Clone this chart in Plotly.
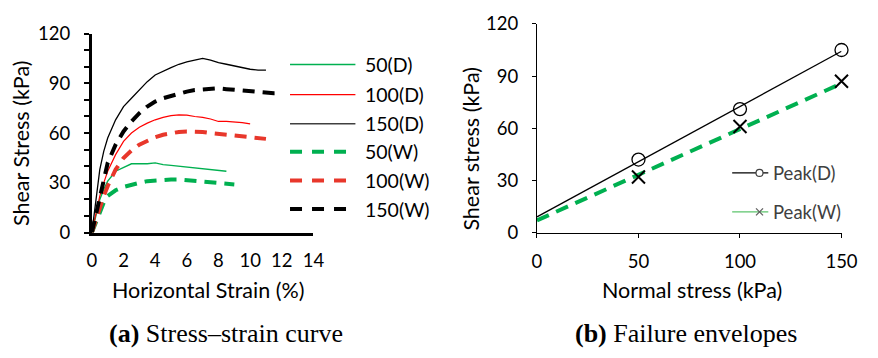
import plotly.graph_objects as go

# ---------------- data ----------------
# (a) stress-strain curves: horizontal strain (%) vs shear stress (kPa)
strain_50d = [0, 0.25, 0.5, 0.75, 1, 1.5, 2, 2.5, 3, 3.5, 4, 4.5, 5, 5.5, 6, 6.5, 7, 7.5, 8, 8.5]
stress_50d = [0, 11, 20, 26, 31, 37, 39.5, 41.5, 41.5, 41.5, 42, 41, 40.5, 40, 39.5, 39, 38.5, 38, 37.5, 37]

strain_100d = [0, 0.25, 0.5, 0.75, 1, 1.5, 2, 2.5, 3, 3.5, 4, 4.5, 5, 5.5, 6, 6.5, 7, 7.5, 8, 8.5, 9, 9.5, 10]
stress_100d = [0, 12, 22, 30, 37, 47, 55, 60, 63.5, 66, 68, 69.5, 70.5, 71, 70.8, 70, 69.5, 68.5, 67, 67, 66.8, 66.3, 65.5]

strain_150d = [0, 0.25, 0.5, 0.75, 1, 1.5, 2, 2.5, 3, 3.5, 4, 4.5, 5, 5.5, 6, 6.5, 7, 7.5, 8, 8.5, 9, 9.5, 10, 10.5, 11]
stress_150d = [0, 20, 38, 49, 57, 68, 76, 81, 86, 91, 95, 97.5, 99.5, 101.5, 103, 104, 105, 104, 102.5, 101.5, 100.5, 99.5, 98.5, 98, 98]

strain_50w = [0, 0.25, 0.5, 0.75, 1, 1.5, 2, 2.5, 3, 3.5, 4, 4.5, 5, 5.5, 6, 6.5, 7, 7.5, 8, 8.5, 9]
stress_50w = [0, 6, 13, 18, 22, 25.5, 27.5, 29, 30, 31, 31.5, 32, 32, 32, 31.5, 31, 30.5, 30, 30, 29.5, 29]

strain_100w = [0, 0.25, 0.5, 0.75, 1, 1.5, 2, 2.5, 3, 3.5, 4, 4.5, 5, 5.5, 6, 6.5, 7, 7.5, 8, 8.5, 9, 9.5, 10, 10.5, 11]
stress_100w = [0, 8, 15, 22, 28, 38, 45, 49.5, 53, 55.5, 57.5, 59, 60, 60.7, 61, 61, 60.7, 60, 59.5, 58.8, 58.3, 57.8, 57.5, 57, 56.5]

strain_150w = [0, 0.25, 0.5, 0.75, 1, 1.5, 2, 2.5, 3, 3.5, 4, 4.5, 5, 5.5, 6, 6.5, 7, 7.5, 8, 8.5, 9, 9.5, 10, 10.5, 11, 11.5, 12]
stress_150w = [0, 10, 20, 30, 42, 53, 61, 67, 72, 76, 79, 81, 82.5, 83.5, 85, 86, 86.5, 87, 87, 86.5, 86, 85.5, 85, 85, 84.5, 84, 84]

curve_names = ["50(D)", "100(D)", "150(D)", "50(W)", "100(W)", "150(W)"]

# (b) failure envelopes
normal_stress = [50, 100, 150]
peak_dry = [42, 71, 105]
peak_wet = [32, 61, 87]
# linear envelopes: [intercept (kPa), slope]
envelope_dry = [9.0, 0.635]
envelope_wet = [7.0, 0.525]
envelope_span = [0, 150]

strain_ticks = [0, 2, 4, 6, 8, 10, 12, 14]
stress_ticks = [0, 30, 60, 90, 120]
normal_ticks = [0, 50, 100, 150]

# ---------------- styling ----------------
W, H = 878, 358
FONT = "Lato, Calibri, Carlito, sans-serif"
GREEN = "#00b050"
RED_SOLID = "#ff0000"
RED_DASH = "#e8372b"
DASH = "12px,8px"


def fx(p):
    return p / W


def fy(p):
    return 1 - p / H


curves = [
    (strain_50d, stress_50d, dict(color=GREEN, width=1.4)),
    (strain_100d, stress_100d, dict(color=RED_SOLID, width=1.2)),
    (strain_150d, stress_150d, dict(color="#000000", width=1.3)),
    (strain_50w, stress_50w, dict(color=GREEN, width=4, dash=DASH)),
    (strain_100w, stress_100w, dict(color=RED_DASH, width=4, dash=DASH)),
    (strain_150w, stress_150w, dict(color="#000000", width=4, dash=DASH)),
]

fig = go.Figure()

for (sx, sy, ln), name in zip(curves, curve_names):
    fig.add_trace(go.Scatter(x=sx, y=sy, mode="lines", name=name, line=ln,
                             showlegend=False, xaxis="x", yaxis="y"))


# envelopes
def env(coef):
    return [coef[0] + coef[1] * s for s in envelope_span]


fig.add_trace(go.Scatter(x=envelope_span, y=env(envelope_dry), mode="lines",
                         line=dict(color="#000000", width=1.3), showlegend=False,
                         xaxis="x2", yaxis="y2"))
fig.add_trace(go.Scatter(x=envelope_span, y=env(envelope_wet), mode="lines",
                         line=dict(color=GREEN, width=4, dash="13px,8px"), showlegend=False,
                         xaxis="x2", yaxis="y2"))
fig.add_trace(go.Scatter(x=normal_stress, y=peak_dry, mode="markers", name="Peak(D)",
                         marker=dict(symbol="circle-open", size=13, color="#000000",
                                     line=dict(width=1.3)),
                         cliponaxis=False, showlegend=False, xaxis="x2", yaxis="y2"))
fig.add_trace(go.Scatter(x=normal_stress, y=peak_wet, mode="markers", name="Peak(W)",
                         marker=dict(symbol="x-thin-open", size=13, color="#000000",
                                     line=dict(width=2, color="#000000")),
                         cliponaxis=False, showlegend=False, xaxis="x2", yaxis="y2"))

tickfont = dict(family=FONT, size=18.5, color="#000000")

fig.update_layout(
    width=W, height=H,
    margin=dict(l=0, r=0, t=0, b=0),
    paper_bgcolor="white", plot_bgcolor="white",
    showlegend=False,
    xaxis=dict(domain=[fx(89), fx(316)], range=[0, 14], tickvals=strain_ticks,
               showgrid=False, zeroline=False, showline=True, linewidth=3,
               linecolor="#000000", ticks="", tickfont=tickfont,
               ticklabelstandoff=9, anchor="y"),
    yaxis=dict(domain=[fy(235), fy(23)], range=[0, 120], tickvals=stress_ticks,
               showgrid=False, zeroline=False, showline=True, linewidth=3,
               linecolor="#000000", ticks="outside", ticklen=5, tickwidth=1.5,
               tickcolor="#000000", tickfont=tickfont, ticklabelstandoff=10,
               minor=dict(dtick=10, ticks="outside", ticklen=5, tickwidth=1.5,
                          tickcolor="#000000", showgrid=False),
               anchor="x"),
    xaxis2=dict(domain=[fx(545), fx(857)], range=[0, 150], tickvals=normal_ticks,
                showgrid=False, zeroline=False, showline=True, linewidth=1.2,
                linecolor="#000000", ticks="outside", ticklen=4, tickwidth=1.2,
                tickcolor="#000000", tickfont=tickfont, ticklabelstandoff=8,
                anchor="y2"),
    yaxis2=dict(domain=[fy(235), fy(12.7)], range=[0, 120], tickvals=stress_ticks,
                showgrid=False, zeroline=False, showline=True, linewidth=1.2,
                linecolor="#000000", ticks="outside", ticklen=4, tickwidth=1.2,
                tickcolor="#000000", tickfont=tickfont, ticklabelstandoff=10,
                anchor="x2"),
)

annotations = []
shapes = []

# axis titles
title_font = dict(family=FONT, size=21.5, color="#000000")
annotations += [
    dict(text="Shear Stress (kPa)", x=fx(17), y=fy(140), textangle=-90, font=title_font),
    dict(text="Horizontal Strain (%)", x=fx(208), y=fy(296), font=title_font),
    dict(text="Shear stress (kPa)", x=fx(477), y=fy(146), textangle=-90, font=title_font),
    dict(text="Normal stress (kPa)", x=fx(704), y=fy(296), font=title_font),
]

# panel captions
cap_font = dict(family="Liberation Serif, Times New Roman, serif", size=26, color="#000000")
annotations += [
    dict(text="<b>(a)</b> Stress\u2013strain curve", x=fx(226), y=fy(343), font=cap_font),
    dict(text="<b>(b)</b> Failure envelopes", x=fx(698), y=fy(343), font=cap_font),
]

# legend for (a)
legend_rows = [56, 88, 119, 149, 179.5, 210]
legend_lines = [
    dict(color=GREEN, width=1.6), dict(color=RED_SOLID, width=1.3), dict(color="#404040", width=1.6),
    dict(color=GREEN, width=4, dash="12px,10px"), dict(color=RED_DASH, width=4, dash="12px,10px"),
    dict(color="#000000", width=4, dash="12px,10px"),
]
for name, row, ln, dashed in zip(curve_names, legend_rows, legend_lines, [0, 0, 0, 1, 1, 1]):
    shapes.append(dict(type="line", xref="paper", yref="paper",
                       x0=fx(292), x1=fx(350 if dashed else 359), y0=fy(row), y1=fy(row), line=ln))
    annotations.append(dict(text=name, x=fx(367), y=fy(row), xanchor="left",
                            font=dict(family=FONT, size=19.5, color="#000000")))

# legend for (b)
leg_font = dict(family=FONT, size=18.5, color="#404040")
for row, color, label in [(171.5, "#000000", "Peak(D)"), (213, "#5cc46c", "Peak(W)")]:
    shapes.append(dict(type="line", xref="paper", yref="paper", x0=fx(745), x1=fx(782),
                       y0=fy(row), y1=fy(row), line=dict(color=color, width=1.3)))
    annotations.append(dict(text=label, x=fx(785), y=fy(row), xanchor="left", font=leg_font))
# circle and cross symbols of the (b) legend
shapes.append(dict(type="circle", xref="paper", yref="paper", xsizemode="pixel",
                   ysizemode="pixel", xanchor=fx(773), yanchor=fy(171.5),
                   x0=-3.5, x1=3.5, y0=-3.5, y1=3.5, fillcolor="white",
                   line=dict(color="#404040", width=1.2)))
for sgn in (1, -1):
    shapes.append(dict(type="line", xref="paper", yref="paper", xsizemode="pixel",
                       ysizemode="pixel", xanchor=fx(773), yanchor=fy(213),
                       x0=-3.5, x1=3.5, y0=-3.5 * sgn, y1=3.5 * sgn,
                       line=dict(color="#606060", width=1.3)))

for a in annotations:
    a.setdefault("xref", "paper")
    a.setdefault("yref", "paper")
    a.setdefault("showarrow", False)
    a.setdefault("xanchor", "center")
    a.setdefault("yanchor", "middle")

fig.update_layout(annotations=annotations, shapes=shapes)

fig.write_html("out.html")
